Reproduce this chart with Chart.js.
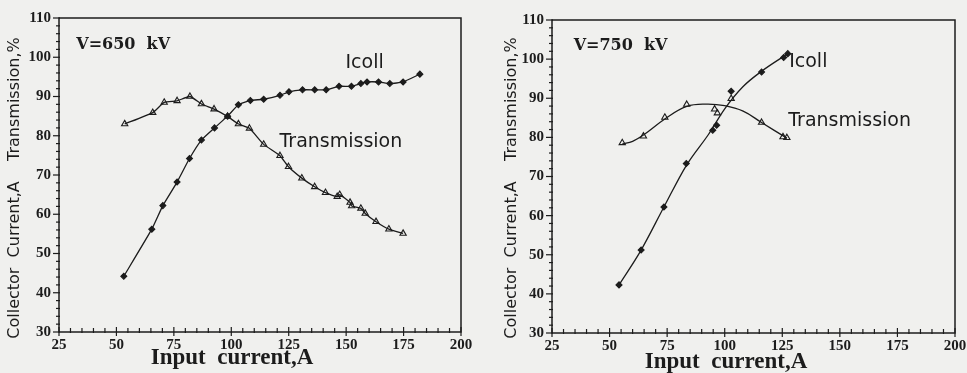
<!DOCTYPE html>
<html>
<head>
<meta charset="utf-8">
<script src="https://cdn.jsdelivr.net/npm/chart.js@4/dist/chart.umd.min.js"></script>
<style>
    html, body { margin: 0; padding: 0; background: #f0f0ee; }
    .panel { position: absolute; top: 0; height: 373px; }
    #left { left: 0; width: 480px; }
    #right { left: 480px; width: 487px; }
</style>
</head>
<body>
<div class="panel" id="left"><canvas id="chart650"></canvas></div>
<div class="panel" id="right"><canvas id="chart750"></canvas></div>
<script>
// V = 650 kV, measured points joined point to point
const icoll650X = [53.2, 65.4, 70.2, 76.4, 81.8, 87.0, 92.7, 98.4, 103.1, 108.3, 114.1, 121.2, 125.1, 131.0, 136.3, 141.3, 146.9, 152.3, 156.4, 159.1, 164.1, 169.0, 174.8, 182.1];
const icoll650Y = [44.2, 56.2, 62.2, 68.2, 74.2, 78.9, 82.0, 85.0, 87.9, 89.0, 89.3, 90.3, 91.2, 91.7, 91.7, 91.7, 92.6, 92.6, 93.3, 93.7, 93.7, 93.3, 93.7, 95.7];
const trans650X = [53.6, 65.8, 70.8, 76.4, 82.0, 87.0, 92.5, 98.4, 103.1, 107.9, 114.1, 121.2, 124.9, 130.7, 136.3, 141.0, 146.1, 147.2, 151.7, 152.4, 156.4, 158.3, 163.0, 168.6, 174.8];
const trans650Y = [83.0, 85.9, 88.5, 88.9, 90.0, 88.1, 86.8, 84.9, 83.0, 81.9, 77.8, 74.9, 72.1, 69.2, 67.0, 65.5, 64.5, 65.0, 63.0, 62.1, 61.5, 60.2, 58.1, 56.2, 55.1];

// V = 750 kV, measured points
const icoll750X = [54.1, 63.7, 73.6, 83.3, 94.8, 96.5, 102.8, 116.0, 125.6, 127.4];
const icoll750Y = [42.3, 51.2, 62.2, 73.3, 81.8, 83.1, 91.8, 96.7, 100.4, 101.4];
const trans750X = [55.5, 64.7, 74.0, 83.5, 95.6, 96.8, 102.8, 116.0, 125.3, 127.0];
const trans750Y = [78.6, 80.3, 85.1, 88.4, 87.2, 86.2, 89.9, 83.8, 80.1, 79.9];
// V = 750 kV, fitted curves
const icoll750FitX = [54.1, 63.7, 73.6, 83.3, 93.0, 100.0, 108.0, 116.0, 127.4];
const icoll750FitY = [42.3, 51.2, 62.2, 72.8, 80.8, 87.3, 93.0, 96.9, 101.4];
const trans750FitX = [55.5, 60.0, 64.7, 74.0, 83.5, 92.0, 100.0, 108.0, 116.0, 127.0];
const trans750FitY = [78.3, 79.0, 80.6, 84.7, 87.9, 88.5, 88.1, 86.7, 83.8, 79.8];

const xTicks = [25, 50, 75, 100, 125, 150, 175, 200];
const yTicks = [30, 40, 50, 60, 70, 80, 90, 100, 110];

const ink = "#1c1c1c";
const tickFont = { family: "'Liberation Serif', serif", size: 15, weight: "bold" };

function toPoints(xs, ys) {
    return xs.map((x, i) => ({ x: x, y: ys[i] }));
}

// frame, minor ticks and the text labels on the plot
const decorPlugin = {
    id: "decor",
    afterDraw(chart) {
        const c = chart.ctx;
        const a = chart.chartArea;
        const sx = chart.scales.x;
        const sy = chart.scales.y;
        const o = chart.options.plugins.decor;
        c.save();
        c.strokeStyle = ink;
        c.lineWidth = 1.5;
        c.strokeRect(a.left, a.top, a.right - a.left, a.bottom - a.top);

        c.lineWidth = 1.2;
        for (let v = 25; v <= 200; v += 5) {
            const px = sx.getPixelForValue(v);
            const major = v % 25 === 0;
            c.beginPath();
            c.moveTo(px, a.bottom - (major ? 5 : 4));
            c.lineTo(px, a.bottom + (major ? 4 : 1));
            c.stroke();
        }
        for (let v = 30; v <= 110; v += 2) {
            const py = sy.getPixelForValue(v);
            const major = v % 10 === 0;
            c.beginPath();
            c.moveTo(a.left - (major ? 6 : 3), py);
            c.lineTo(a.left + 1, py);
            c.stroke();
        }

        c.fillStyle = ink;
        c.textBaseline = "middle";
        c.textAlign = "left";
        c.font = "bold 16px 'DejaVu Serif', serif";
        c.fillText(o.voltage, sx.getPixelForValue(o.vPos[0]), sy.getPixelForValue(o.vPos[1]));
        c.font = "19px 'DejaVu Sans', sans-serif";
        c.fillText("Icoll", sx.getPixelForValue(o.iPos[0]), sy.getPixelForValue(o.iPos[1]));
        c.fillText("Transmission", sx.getPixelForValue(o.tPos[0]), sy.getPixelForValue(o.tPos[1]));

        // axis titles
        c.textAlign = "center";
        c.font = "bold 23px 'Liberation Serif', serif";
        c.fillText("Input  current,A", o.xTitle[0], o.xTitle[1]);
        c.save();
        c.translate(o.yTitle[0], o.yTitle[1]);
        c.rotate(-Math.PI / 2);
        c.font = "16px 'DejaVu Sans', sans-serif";
        c.fillText("Collector  Current,A    Transmission,%", 0, 0);
        c.restore();
        c.restore();
    }
};

function lineSet(label, data, style, fill, tension, showPoints) {
    return {
        label: label,
        data: data,
        borderColor: ink,
        backgroundColor: fill,
        borderWidth: 1.3,
        pointStyle: style,
        pointRadius: showPoints ? (style === "triangle" ? 3.6 : 3) : 0,
        pointBorderWidth: 1.1,
        tension: tension
    };
}

function makeChart(id, datasets, pad, leftW, bottomH, decor) {
    const ctx = document.getElementById(id);
    if (!ctx) return;
    new Chart(ctx, {
        type: "line",
        data: { datasets: datasets },
        options: {
            responsive: true,
            maintainAspectRatio: false,
            animation: false,
            layout: { padding: pad },
            plugins: {
                legend: { display: false },
                tooltip: { enabled: false },
                decor: decor
            },
            scales: {
                x: {
                    type: "linear",
                    min: 25,
                    max: 200,
                    afterBuildTicks: (s) => { s.ticks = xTicks.map(v => ({ value: v })); },
                    afterFit: (s) => { s.height = bottomH; },
                    grid: { display: false },
                    border: { display: false },
                    ticks: { color: ink, font: tickFont, padding: -4, maxRotation: 0 }
                },
                y: {
                    type: "linear",
                    min: 30,
                    max: 110,
                    afterBuildTicks: (s) => { s.ticks = yTicks.map(v => ({ value: v })); },
                    afterFit: (s) => { s.width = leftW; },
                    grid: { display: false },
                    border: { display: false },
                    ticks: { color: ink, font: tickFont, padding: 0 }
                }
            }
        },
        plugins: [decorPlugin]
    });
}

document.addEventListener("DOMContentLoaded", function () {
    const clear = "rgba(0,0,0,0)";
    makeChart("chart650", [
            lineSet("Icoll", toPoints(icoll650X, icoll650Y), "rectRot", ink, 0.15, true),
            lineSet("Transmission", toPoints(trans650X, trans650Y), "triangle", clear, 0.15, true)
        ],
        { top: 18, right: 19, bottom: 0, left: 0 }, 59, 41,
        { voltage: "V=650  kV", vPos: [32.5, 103.1], iPos: [149.7, 98.5], tPos: [121, 78.4],
          xTitle: [232, 358], yTitle: [15, 188] });

    const icollFit = lineSet("Icoll fit", toPoints(icoll750FitX, icoll750FitY), "rectRot", ink, 0, false);
    icollFit.cubicInterpolationMode = "monotone";
    const icollPts = lineSet("Icoll", toPoints(icoll750X, icoll750Y), "rectRot", ink, 0, true);
    icollPts.showLine = false;
    const transFit = lineSet("Transmission fit", toPoints(trans750FitX, trans750FitY), "triangle", clear, 0.4, false);
    const transPts = lineSet("Transmission", toPoints(trans750X, trans750Y), "triangle", clear, 0, true);
    transPts.showLine = false;
    makeChart("chart750", [icollFit, icollPts, transFit, transPts],
        { top: 20, right: 12, bottom: 0, left: 0 }, 72, 40,
        { voltage: "V=750  kV", vPos: [34.4, 103.5], iPos: [128, 99.2], tPos: [127.6, 84.1],
          xTitle: [246, 362], yTitle: [32, 188] });
});
</script>
</body>
</html>
